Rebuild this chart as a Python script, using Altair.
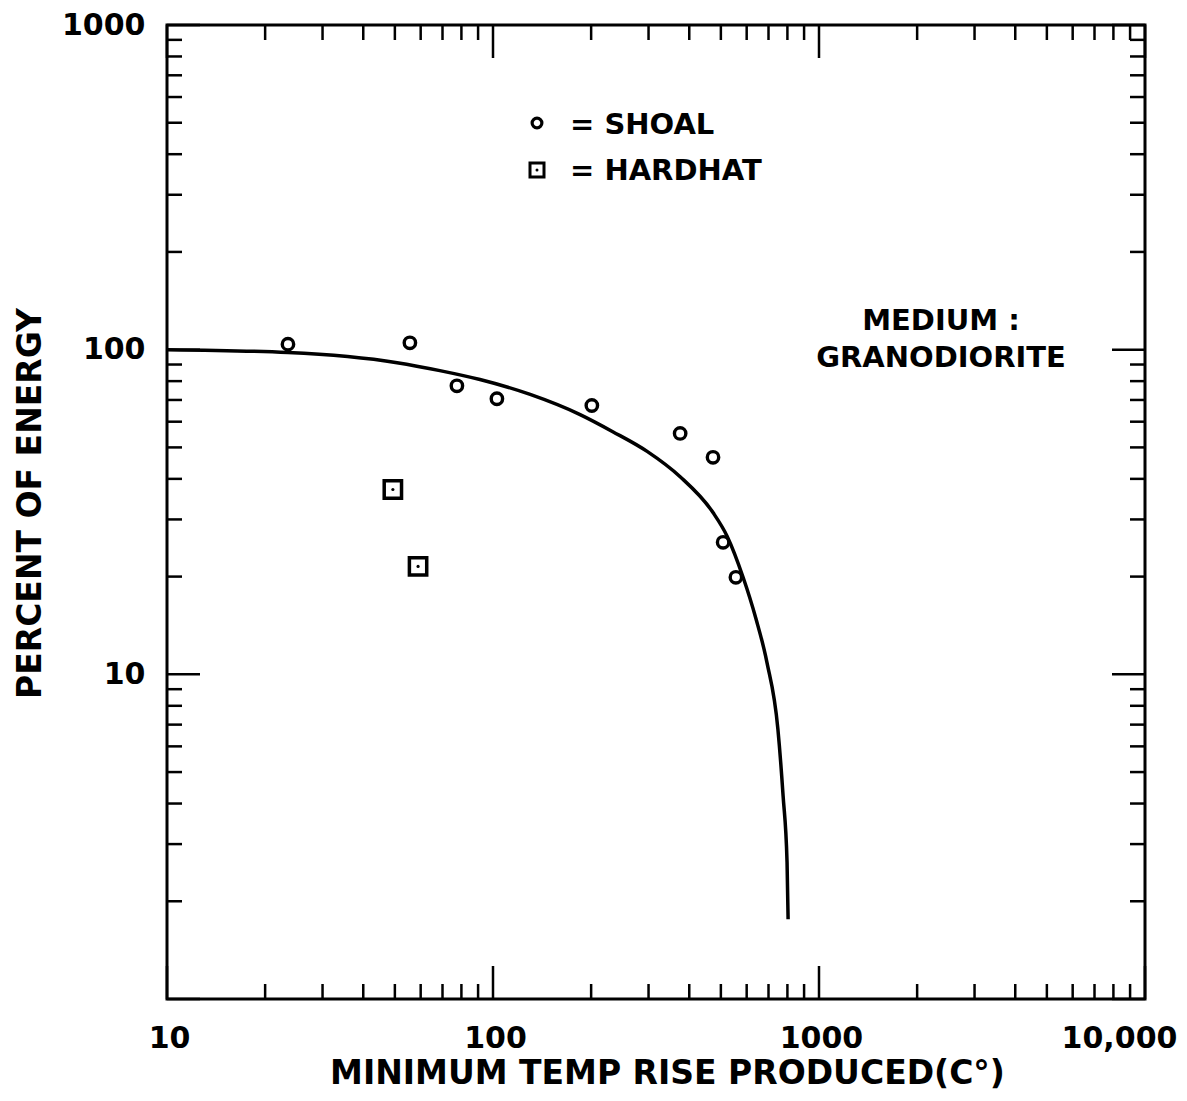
import altair as alt
import pandas as pd

# ---------------- data ----------------
shoal_temp = [23.5, 55.6, 77.5, 102.8, 201, 375, 473, 508, 556]
shoal_pct = [104, 105, 77.4, 70.6, 67.3, 55.2, 46.6, 25.5, 19.9]

hardhat_temp = [49.3, 58.9]
hardhat_pct = [37.1, 21.5]

curve_temp = [10, 23.5, 50.8, 68.7, 91.2, 130, 185, 233, 297, 375, 473, 523, 585, 641, 692, 748, 776, 798, 804]
curve_pct = [100, 98, 91.2, 86.2, 80.9, 72.8, 63.1, 55.9, 48.6, 40.6, 31.5, 26.6, 19.9, 14.8, 10.9, 6.78, 4.22, 2.64, 1.76]

x_major = [10, 100, 1000, 10000]
x_major_labels = ["10", "100", "1000", "10,000"]
x_minor = [20, 30, 40, 50, 60, 70, 80, 90,
           200, 300, 400, 500, 600, 700, 800, 900,
           2000, 3000, 4000, 5000, 6000, 7000, 8000, 9000]
y_major = [1, 10, 100, 1000]
y_label_values = [10, 100, 1000]
y_labels = ["10", "100", "1000"]
y_minor = [2, 3, 4, 5, 6, 7, 8, 9,
           20, 30, 40, 50, 60, 70, 80, 90,
           200, 300, 400, 500, 600, 700, 800, 900]

x_title = "MINIMUM TEMP RISE PRODUCED(C°)"
y_title = "PERCENT OF ENERGY"
legend_shoal = "= SHOAL"
legend_hardhat = "= HARDHAT"
medium_line1 = "MEDIUM :"
medium_line2 = "GRANODIORITE"

# ---------------- layout ----------------
W, H = 978, 974
FONT = "DejaVu Sans"
MAJ, MIN = 33, 15


def make_label_expr(values, labels):
    return " : ".join(
        f"datum.value == {v} ? '{t}'" for v, t in zip(values, labels)
    ) + " : ''"


xscale = alt.Scale(type="log", domain=[10, 10000], nice=False)
yscale = alt.Scale(type="log", domain=[1, 1000], nice=False)

xaxis = alt.Axis(
    values=x_major, labelExpr=make_label_expr(x_major, x_major_labels),
    ticks=False, tickSize=0, domain=False, grid=False, labelFlush=False,
    labelFont=FONT, labelFontSize=30, labelFontWeight="bold", labelColor="black",
    labelPadding=24, labelBaseline="top", labelAlign="center",
    labelOffset={"condition": {"test": "datum.value >= 10000", "value": -26}, "value": 2},
    title=x_title, titleFont=FONT, titleFontSize=33, titleFontWeight="bold", titleColor="black",
    titleX=500, titleY=74, titleAlign="center", titleBaseline="middle",
)
yaxis = alt.Axis(
    values=y_label_values, labelExpr=make_label_expr(y_label_values, y_labels),
    ticks=False, tickSize=0, domain=False, grid=False, labelFlush=False,
    labelFont=FONT, labelFontSize=30, labelFontWeight="bold", labelColor="black",
    labelPadding=22, labelBaseline="middle", labelAlign="right",
    title=y_title, titleFont=FONT, titleFontSize=33, titleFontWeight="bold", titleColor="black",
    titleAngle=270, titleX=-137, titleY=478, titleAlign="center", titleBaseline="middle",
)

X = alt.X("x:Q", scale=xscale, axis=xaxis)
Y = alt.Y("y:Q", scale=yscale, axis=yaxis)

curve_df = pd.DataFrame({"x": curve_temp, "y": curve_pct})
shoal_df = pd.DataFrame({"x": shoal_temp, "y": shoal_pct})
hard_df = pd.DataFrame({"x": hardhat_temp, "y": hardhat_pct})
xmaj_df = pd.DataFrame({"x": x_major})
xmin_df = pd.DataFrame({"x": x_minor})
ymaj_df = pd.DataFrame({"y": y_major})
ymin_df = pd.DataFrame({"y": y_minor})

curve = alt.Chart(curve_df).mark_line(
    interpolate="monotone", color="black", strokeWidth=3.5
).encode(x=X, y=Y)

shoal = alt.Chart(shoal_df).mark_point(
    shape="circle", filled=False, color="black", size=130, strokeWidth=3.4, opacity=1
).encode(x=X, y=Y)

hard_sq = alt.Chart(hard_df).mark_point(
    shape="square", filled=False, color="black", size=300, strokeWidth=3.5, opacity=1
).encode(x=X, y=Y)
hard_dot = alt.Chart(hard_df).mark_point(
    shape="circle", filled=True, color="black", size=10, opacity=1
).encode(x=X, y=Y)


def xticks(df, length):
    bottom = alt.Chart(df).mark_rule(color="black", strokeWidth=2.5).encode(
        x=X, y=alt.value(H), y2=alt.value(H - length))
    top = alt.Chart(df).mark_rule(color="black", strokeWidth=2.5).encode(
        x=X, y=alt.value(0), y2=alt.value(length))
    return [bottom, top]


def yticks(df, length):
    left = alt.Chart(df).mark_rule(color="black", strokeWidth=2.5).encode(
        y=Y, x=alt.value(0), x2=alt.value(length))
    right = alt.Chart(df).mark_rule(color="black", strokeWidth=2.5).encode(
        y=Y, x=alt.value(W), x2=alt.value(W - length))
    return [left, right]


ticks = xticks(xmaj_df, MAJ) + xticks(xmin_df, MIN) + yticks(ymaj_df, MAJ) + yticks(ymin_df, MIN)

one = pd.DataFrame({"k": [0]})


def label(text, x, y, size=29, align="left"):
    return alt.Chart(one).mark_text(
        text=text, font=FONT, fontSize=size, fontWeight="bold", color="black",
        align=align, baseline="middle"
    ).encode(x=alt.value(x), y=alt.value(y))


leg_circle = alt.Chart(one).mark_point(
    shape="circle", filled=False, color="black", size=95, strokeWidth=3.2, opacity=1
).encode(x=alt.value(370), y=alt.value(98))
leg_square = alt.Chart(one).mark_point(
    shape="square", filled=False, color="black", size=196, strokeWidth=3, opacity=1
).encode(x=alt.value(370), y=alt.value(145))
leg_dot = alt.Chart(one).mark_point(
    shape="circle", filled=True, color="black", size=9, opacity=1
).encode(x=alt.value(370), y=alt.value(145))

annotations = [
    leg_circle, leg_square, leg_dot,
    label(legend_shoal, 403, 100),
    label(legend_hardhat, 403, 146),
    label(medium_line1, 774, 296, align="center"),
    label(medium_line2, 774, 333, align="center"),
]

chart = alt.layer(
    curve, shoal, hard_sq, hard_dot, *ticks, *annotations
).properties(
    width=W, height=H,
    autosize=alt.AutoSizeParams(type="none"),
    padding={"left": 159, "top": 17, "right": 34, "bottom": 92},
    background="white",
).configure_view(
    stroke="black", strokeWidth=3
)

chart.save("out.html", embed_options={"renderer": "svg", "actions": False})
